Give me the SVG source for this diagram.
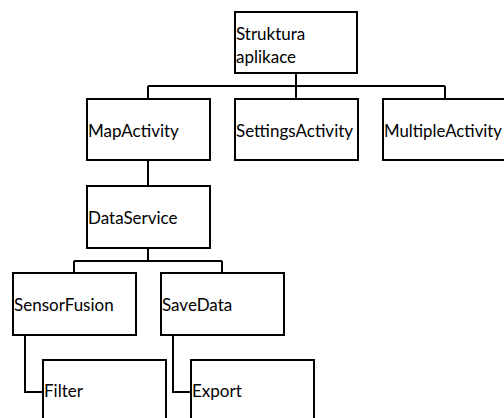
<svg xmlns="http://www.w3.org/2000/svg" width="504" height="418" viewBox="0 0 504 418">
  <style>
    .box { fill: #ffffff; stroke: #000000; stroke-width: 2; }
    .lbl { font-family: Lato, "Open Sans", sans-serif; font-size: 17px; fill: #000000; }
    .wire { fill: none; stroke: #000000; stroke-width: 2; }
  </style>
  <rect width="504" height="418" fill="#ffffff"/>

  <!-- connectors -->
  <g id="connectors">
    <path class="wire" d="M296 73 V86 M148 86 H445 M148 86 V99 M296 86 V99 M445 86 V99"/>
    <path class="wire" d="M148 160 V186"/>
    <path class="wire" d="M148 248 V261 M74 261 H222 M74 261 V273 M222 261 V273"/>
    <path class="wire" d="M25 335 V392 H43"/>
    <path class="wire" d="M173 335 V392 H191"/>
  </g>

  <g id="root">
    <rect class="box" x="235" y="12" width="122" height="61"/>
    <text class="lbl" x="236" y="40">Struktura</text>
    <text class="lbl" x="236" y="63">aplikace</text>
  </g>
  <g id="map-activity">
    <rect class="box" x="87" y="99" width="123" height="61"/>
    <text class="lbl" x="88" y="137">MapActivity</text>
  </g>
  <g id="settings-activity">
    <rect class="box" x="235" y="99" width="123" height="61"/>
    <text class="lbl" x="236" y="137">SettingsActivity</text>
  </g>
  <g id="multiple-activity">
    <rect class="box" x="383" y="99" width="123" height="61"/>
    <text class="lbl" x="384" y="137" textLength="118" lengthAdjust="spacingAndGlyphs">MultipleActivity</text>
  </g>
  <g id="data-service">
    <rect class="box" x="87" y="186" width="123" height="62"/>
    <text class="lbl" x="88" y="224">DataService</text>
  </g>
  <g id="sensor-fusion">
    <rect class="box" x="13" y="273" width="123" height="62"/>
    <text class="lbl" x="14" y="311">SensorFusion</text>
  </g>
  <g id="save-data">
    <rect class="box" x="161" y="273" width="123" height="62"/>
    <text class="lbl" x="162" y="311">SaveData</text>
  </g>
  <g id="filter">
    <rect class="box" x="43" y="360" width="123" height="70"/>
    <text class="lbl" x="44" y="397">Filter</text>
  </g>
  <g id="export">
    <rect class="box" x="191" y="360" width="123" height="70"/>
    <text class="lbl" x="192" y="397">Export</text>
  </g>
</svg>
